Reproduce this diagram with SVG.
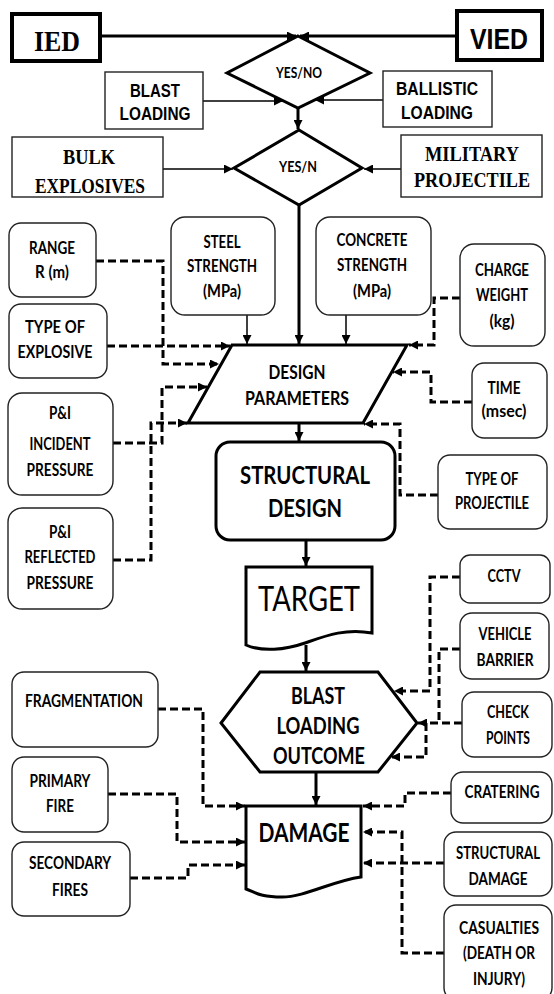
<svg xmlns="http://www.w3.org/2000/svg" width="554" height="994" viewBox="0 0 554 994">
  <style>
    .bg { fill: #ffffff; }
    .box { fill: #ffffff; stroke: #222; stroke-width: 1.4; }
    .sq { fill: #ffffff; stroke: #222; stroke-width: 1.4; }
    .heavy { fill: #ffffff; stroke: #000; stroke-width: 4; }
    .shape { fill: #ffffff; stroke: #000; stroke-width: 3; stroke-linejoin: miter; }
    .solid { fill: none; stroke: #000; stroke-width: 3; }
    .thin { fill: none; stroke: #000; stroke-width: 1.5; }
    .dash { fill: none; stroke: #000; stroke-width: 3; stroke-dasharray: 8 4; }
    text { fill: #000; text-anchor: middle; }
    .c { font-family: Lato, "Liberation Sans", sans-serif; font-weight: bold; font-size: 16.5px; }
    .a { font-family: "Liberation Sans", Arial, sans-serif; font-weight: bold; font-size: 18px; }
    .s { font-family: "Liberation Serif", "Times New Roman", serif; font-weight: bold; font-size: 20px; }
    .yn { font-size: 14.5px; }
    .dp { font-size: 19px; }
    .sd { font-size: 25px; }
    .hx { font-size: 22px; }
    .dm { font-size: 27px; }
    .big { font-size: 30px; }
    .tg { font-family: Lato, "Liberation Sans", sans-serif; font-size: 34px; }
  </style>
  <defs>
    <marker id="ah" viewBox="0 0 10 10" refX="10" refY="5" markerWidth="10" markerHeight="9" markerUnits="userSpaceOnUse" orient="auto">
      <path d="M0,0 L10,5 L0,10 z" fill="#000"/>
    </marker>
  </defs>

  <rect class="bg" x="0" y="0" width="554" height="994"/>

  <!-- connectors -->
  <g id="connectors">
    <!-- solid flow -->
    <path class="solid" d="M102,36 H296" marker-end="url(#ah)"/>
    <path class="solid" d="M455,36 H300" marker-end="url(#ah)"/>
    <path class="thin" d="M203,101 H283" marker-end="url(#ah)"/>
    <path class="thin" d="M383,100 H315" marker-end="url(#ah)"/>
    <path class="solid" d="M298,108 V129" marker-end="url(#ah)"/>
    <path class="thin" d="M163,169 H233" marker-end="url(#ah)"/>
    <path class="thin" d="M401,169 H364" marker-end="url(#ah)"/>
    <path class="solid" d="M299,205 V344" marker-end="url(#ah)"/>
    <path class="thin" d="M247,315 V344" marker-end="url(#ah)"/>
    <path class="thin" d="M346,315 V344" marker-end="url(#ah)"/>
    <path class="solid" d="M299,424 V441" marker-end="url(#ah)"/>
    <path class="solid" d="M306,541 V566" marker-end="url(#ah)"/>
    <path class="solid" d="M306,645 V671" marker-end="url(#ah)"/>
    <path class="solid" d="M316,773 V805" marker-end="url(#ah)"/>

    <!-- dashed inputs -->
    <path class="dash" d="M96,261 H163 V364 H219" marker-end="url(#ah)"/>
    <path class="dash" d="M107,346 H230" marker-end="url(#ah)"/>
    <path class="dash" d="M113,443 H162 V387 H207" marker-end="url(#ah)"/>
    <path class="dash" d="M113,560 H151 V423 H187" marker-end="url(#ah)"/>
    <path class="dash" d="M460,298 H434 V345 H409" marker-end="url(#ah)"/>
    <path class="dash" d="M472,402 H431 V372 H393" marker-end="url(#ah)"/>
    <path class="dash" d="M438,495 H400 V424 H364" marker-end="url(#ah)"/>
    <path class="dash" d="M460,577 H430 V691 H394" marker-end="url(#ah)"/>
    <path class="dash" d="M460,649 H439 V723"/>
    <path class="dash" d="M462,723 H418" marker-end="url(#ah)"/>
    <path class="dash" d="M426,723 V757 H391" marker-end="url(#ah)"/>
    <path class="dash" d="M451,793 H405 V806 H363" marker-end="url(#ah)"/>
    <path class="dash" d="M444,863 H363" marker-end="url(#ah)"/>
    <path class="dash" d="M444,953 H402 V832 H363" marker-end="url(#ah)"/>
    <path class="dash" d="M158,709 H203 V806 H245" marker-end="url(#ah)"/>
    <path class="dash" d="M108,794 H177 V842 H245" marker-end="url(#ah)"/>
    <path class="dash" d="M130,878 H188 V865 H245" marker-end="url(#ah)"/>
  </g>

  <!-- top sources -->
  <g id="ied">
    <rect class="heavy" x="12" y="14" width="88" height="47"/>
    <text class="s big" x="57" y="51" textLength="46" lengthAdjust="spacingAndGlyphs">IED</text>
  </g>
  <g id="vied">
    <rect class="heavy" x="457" y="11" width="85" height="49"/>
    <text class="a big" x="499" y="49" textLength="58" lengthAdjust="spacingAndGlyphs">VIED</text>
  </g>
  <g id="decision-1">
    <polygon class="shape" points="298,36 370,73 298,108 227,73"/>
    <text class="c yn" x="299" y="78" textLength="46" lengthAdjust="spacingAndGlyphs">YES/NO</text>
  </g>
  <g id="blast-loading">
    <rect class="sq" x="105" y="72" width="98" height="57"/>
    <text class="a" x="155" y="96.5" textLength="50" lengthAdjust="spacingAndGlyphs">BLAST</text>
    <text class="a" x="155" y="119.5" textLength="71" lengthAdjust="spacingAndGlyphs">LOADING</text>
  </g>
  <g id="ballistic-loading">
    <rect class="sq" x="383" y="71" width="109" height="56"/>
    <text class="a" x="437" y="94.5" textLength="82" lengthAdjust="spacingAndGlyphs">BALLISTIC</text>
    <text class="a" x="437" y="118.5" textLength="72" lengthAdjust="spacingAndGlyphs">LOADING</text>
  </g>
  <g id="decision-2">
    <polygon class="shape" points="299,130 362,168 299,205 234,168"/>
    <text class="c yn" x="298" y="172" textLength="38" lengthAdjust="spacingAndGlyphs">YES/N</text>
  </g>
  <g id="bulk-explosives">
    <rect class="sq" x="12" y="137" width="151" height="60"/>
    <text class="s" x="89" y="164" textLength="52" lengthAdjust="spacingAndGlyphs">BULK</text>
    <text class="s" x="90" y="193" textLength="110" lengthAdjust="spacingAndGlyphs">EXPLOSIVES</text>
  </g>
  <g id="military-projectile">
    <rect class="sq" x="401" y="135" width="141" height="62"/>
    <text class="s" x="472" y="161" textLength="94" lengthAdjust="spacingAndGlyphs">MILITARY</text>
    <text class="s" x="472" y="187" textLength="116" lengthAdjust="spacingAndGlyphs">PROJECTILE</text>
  </g>

  <!-- design inputs -->
  <g id="range">
    <rect class="box" x="9" y="223" width="87" height="74" rx="12"/>
    <text class="c" x="52" y="254" textLength="46" lengthAdjust="spacingAndGlyphs">RANGE</text>
    <text class="c" x="52" y="278" textLength="34" lengthAdjust="spacingAndGlyphs">R (m)</text>
  </g>
  <g id="type-of-explosive">
    <rect class="box" x="9" y="304" width="98" height="74" rx="12"/>
    <text class="c" x="55" y="333" textLength="60" lengthAdjust="spacingAndGlyphs">TYPE OF</text>
    <text class="c" x="55" y="358" textLength="75" lengthAdjust="spacingAndGlyphs">EXPLOSIVE</text>
  </g>
  <g id="steel-strength">
    <rect class="box" x="171" y="217" width="104" height="98" rx="14"/>
    <text class="c" x="222" y="248" textLength="37" lengthAdjust="spacingAndGlyphs">STEEL</text>
    <text class="c" x="222" y="272" textLength="70" lengthAdjust="spacingAndGlyphs">STRENGTH</text>
    <text class="c" x="222" y="297" textLength="38" lengthAdjust="spacingAndGlyphs">(MPa)</text>
  </g>
  <g id="concrete-strength">
    <rect class="box" x="316" y="217" width="115" height="98" rx="14"/>
    <text class="c" x="372" y="246" textLength="71" lengthAdjust="spacingAndGlyphs">CONCRETE</text>
    <text class="c" x="372" y="271" textLength="70" lengthAdjust="spacingAndGlyphs">STRENGTH</text>
    <text class="c" x="372" y="297" textLength="38" lengthAdjust="spacingAndGlyphs">(MPa)</text>
  </g>
  <g id="charge-weight">
    <rect class="box" x="460" y="244" width="85" height="102" rx="14"/>
    <text class="c" x="502" y="276" textLength="54" lengthAdjust="spacingAndGlyphs">CHARGE</text>
    <text class="c" x="502" y="301" textLength="52" lengthAdjust="spacingAndGlyphs">WEIGHT</text>
    <text class="c" x="502" y="327" textLength="25" lengthAdjust="spacingAndGlyphs">(kg)</text>
  </g>
  <g id="time">
    <rect class="box" x="472" y="363" width="75" height="75" rx="12"/>
    <text class="c" x="504" y="394" textLength="33" lengthAdjust="spacingAndGlyphs">TIME</text>
    <text class="c" x="504" y="417" textLength="45" lengthAdjust="spacingAndGlyphs">(msec)</text>
  </g>
  <g id="incident-pressure">
    <rect class="box" x="8" y="393" width="105" height="102" rx="14"/>
    <text class="c" x="60" y="419" textLength="22" lengthAdjust="spacingAndGlyphs">P&amp;I</text>
    <text class="c" x="60" y="450" textLength="61" lengthAdjust="spacingAndGlyphs">INCIDENT</text>
    <text class="c" x="60" y="476" textLength="67" lengthAdjust="spacingAndGlyphs">PRESSURE</text>
  </g>
  <g id="reflected-pressure">
    <rect class="box" x="8" y="508" width="105" height="101" rx="14"/>
    <text class="c" x="60" y="538" textLength="22" lengthAdjust="spacingAndGlyphs">P&amp;I</text>
    <text class="c" x="60" y="563" textLength="71" lengthAdjust="spacingAndGlyphs">REFLECTED</text>
    <text class="c" x="60" y="589" textLength="67" lengthAdjust="spacingAndGlyphs">PRESSURE</text>
  </g>
  <g id="type-of-projectile">
    <rect class="box" x="438" y="455" width="109" height="74" rx="12"/>
    <text class="c" x="492" y="485" textLength="53" lengthAdjust="spacingAndGlyphs">TYPE OF</text>
    <text class="c" x="492" y="509" textLength="74" lengthAdjust="spacingAndGlyphs">PROJECTILE</text>
  </g>

  <!-- main flow -->
  <g id="design-parameters">
    <polygon class="shape" points="232,345 407,345 363,423 188,423"/>
    <text class="c dp" x="297" y="379" textLength="57" lengthAdjust="spacingAndGlyphs">DESIGN</text>
    <text class="c dp" x="297" y="405" textLength="104" lengthAdjust="spacingAndGlyphs">PARAMETERS</text>
  </g>
  <g id="structural-design">
    <rect class="shape" x="216" y="442" width="179" height="98" rx="14"/>
    <text class="c sd" x="305" y="484" textLength="130" lengthAdjust="spacingAndGlyphs">STRUCTURAL</text>
    <text class="c sd" x="305" y="517" textLength="74" lengthAdjust="spacingAndGlyphs">DESIGN</text>
  </g>
  <g id="target">
    <path class="shape" stroke-width="2.5" d="M246,567 H372 V633 C345,628 325,636 305,643 S262,652 246,645 Z"/>
    <text class="tg" x="309" y="611" textLength="102" lengthAdjust="spacingAndGlyphs">TARGET</text>
  </g>
  <g id="blast-loading-outcome">
    <polygon class="shape" points="260,672 378,672 417,723 378,772 260,772 221,723"/>
    <text class="c hx" x="318" y="704" textLength="54" lengthAdjust="spacingAndGlyphs">BLAST</text>
    <text class="c hx" x="318" y="734" textLength="83" lengthAdjust="spacingAndGlyphs">LOADING</text>
    <text class="c hx" x="319" y="764" textLength="92" lengthAdjust="spacingAndGlyphs">OUTCOME</text>
  </g>
  <g id="damage">
    <path class="shape" d="M246,806 H361 V877 C332,881 305,897 282,897 S255,892 246,889 Z"/>
    <text class="c dm" x="304" y="842" textLength="91" lengthAdjust="spacingAndGlyphs">DAMAGE</text>
  </g>

  <!-- countermeasures -->
  <g id="cctv">
    <rect class="box" x="460" y="555" width="90" height="48" rx="10"/>
    <text class="c" x="504" y="582" textLength="33" lengthAdjust="spacingAndGlyphs">CCTV</text>
  </g>
  <g id="vehicle-barrier">
    <rect class="box" x="460" y="613" width="89" height="66" rx="12"/>
    <text class="c" x="505" y="640" textLength="53" lengthAdjust="spacingAndGlyphs">VEHICLE</text>
    <text class="c" x="505" y="666" textLength="57" lengthAdjust="spacingAndGlyphs">BARRIER</text>
  </g>
  <g id="check-points">
    <rect class="box" x="462" y="692" width="90" height="65" rx="12"/>
    <text class="c" x="508" y="718" textLength="42" lengthAdjust="spacingAndGlyphs">CHECK</text>
    <text class="c" x="508" y="744" textLength="44" lengthAdjust="spacingAndGlyphs">POINTS</text>
  </g>

  <!-- damage mechanisms -->
  <g id="fragmentation">
    <rect class="box" x="12" y="672" width="146" height="75" rx="12"/>
    <text class="c" x="84" y="707" textLength="118" lengthAdjust="spacingAndGlyphs">FRAGMENTATION</text>
  </g>
  <g id="primary-fire">
    <rect class="box" x="12" y="757" width="96" height="75" rx="12"/>
    <text class="c" x="60" y="787" textLength="61" lengthAdjust="spacingAndGlyphs">PRIMARY</text>
    <text class="c" x="60" y="812" textLength="28" lengthAdjust="spacingAndGlyphs">FIRE</text>
  </g>
  <g id="secondary-fires">
    <rect class="box" x="12" y="842" width="118" height="74" rx="12"/>
    <text class="c" x="70" y="869" textLength="82" lengthAdjust="spacingAndGlyphs">SECONDARY</text>
    <text class="c" x="70" y="896" textLength="36" lengthAdjust="spacingAndGlyphs">FIRES</text>
  </g>
  <g id="cratering">
    <rect class="box" x="451" y="772" width="101" height="51" rx="12"/>
    <text class="c" x="502" y="798" textLength="75" lengthAdjust="spacingAndGlyphs">CRATERING</text>
  </g>
  <g id="structural-damage">
    <rect class="box" x="444" y="832" width="108" height="64" rx="12"/>
    <text class="c" x="498" y="859" textLength="84" lengthAdjust="spacingAndGlyphs">STRUCTURAL</text>
    <text class="c" x="498" y="885" textLength="59" lengthAdjust="spacingAndGlyphs">DAMAGE</text>
  </g>
  <g id="casualties">
    <rect class="box" x="444" y="905" width="108" height="95" rx="12"/>
    <text class="c" x="499" y="934" textLength="80" lengthAdjust="spacingAndGlyphs">CASUALTIES</text>
    <text class="c" x="499" y="959" textLength="72" lengthAdjust="spacingAndGlyphs">(DEATH OR</text>
    <text class="c" x="499" y="985" textLength="52" lengthAdjust="spacingAndGlyphs">INJURY)</text>
  </g>
</svg>
